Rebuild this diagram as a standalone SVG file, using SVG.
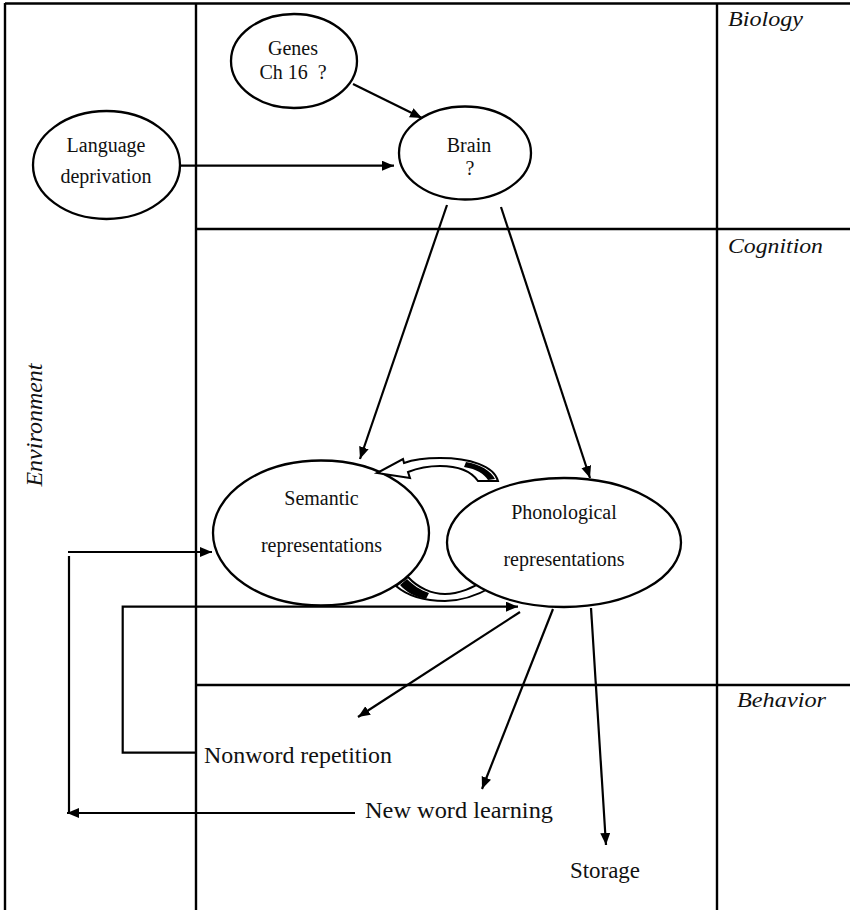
<svg xmlns="http://www.w3.org/2000/svg" width="850" height="910" viewBox="0 0 850 910">
<style>
.frame{stroke:#000;stroke-width:2.4;fill:none}
.node{fill:#fff;stroke:#000;stroke-width:2.3}
.t{font-family:"Liberation Serif","Times New Roman",serif;font-size:20px;fill:#111;text-anchor:middle}
.lbl{font-family:"Liberation Serif","Times New Roman",serif;font-size:23px;fill:#111}
.it{font-family:"Liberation Serif","Times New Roman",serif;font-style:italic;font-size:22px;fill:#111}
.c{stroke:#000;stroke-width:2.2;fill:none}
.band{fill:#fff;stroke:#000;stroke-width:2}
</style>
<defs>
<marker id="ah" markerUnits="userSpaceOnUse" markerWidth="13" markerHeight="11" refX="12" refY="5" orient="auto">
<path d="M0,0 L12,5 L0,10 z" fill="#000"/>
</marker>
</defs>
<rect width="850" height="910" fill="#fff"/>
<g id="frame">
<line class="frame" x1="5" y1="3.5" x2="850" y2="3.5"/>
<line class="frame" x1="5" y1="3" x2="5" y2="910"/>
<line class="frame" x1="196" y1="3" x2="196" y2="910"/>
<line class="frame" x1="717" y1="3" x2="717" y2="910"/>
<line class="frame" x1="196" y1="229" x2="850" y2="229"/>
<line class="frame" x1="196" y1="685" x2="850" y2="685"/>
</g>
<g id="labels">
<text class="it" x="728" y="26" textLength="75" lengthAdjust="spacingAndGlyphs">Biology</text>
<text class="it" x="728" y="253" textLength="95" lengthAdjust="spacingAndGlyphs">Cognition</text>
<text class="it" x="737" y="707" textLength="89" lengthAdjust="spacingAndGlyphs">Behavior</text>
<text class="it" transform="translate(42,425) rotate(-90)" text-anchor="middle" style="font-size:24px">Environment</text>
</g>
<g id="band-bottom">
<path class="band" d="M396,586 C410,598 430,601 445,601 C462,601 476,596 492,587 L486,579 C474,588 458,594 445,594 C432,594 418,588 408,577 Z"/>
<path d="M400,585 C406,592 415,597 426,599 L429,593 C420,590 413,585 407,579 Z" fill="#000"/>
</g>
<g id="connectors">
<line class="c" x1="353" y1="84" x2="422" y2="118" marker-end="url(#ah)"/>
<line class="c" x1="180" y1="165.7" x2="394" y2="165.7" marker-end="url(#ah)"/>
<line class="c" x1="447" y1="205" x2="360" y2="459" marker-end="url(#ah)"/>
<line class="c" x1="501" y1="207" x2="590" y2="478" marker-end="url(#ah)"/>
<line class="c" x1="69" y1="556" x2="69" y2="813"/>
<line class="c" x1="68" y1="552" x2="212" y2="552" marker-end="url(#ah)"/>
<line class="c" x1="355" y1="813" x2="67" y2="813" marker-end="url(#ah)"/>
<path class="c" d="M196,752.7 H122.7 V606.7 H518" marker-end="url(#ah)"/>
<line class="c" x1="520" y1="612" x2="358" y2="717" marker-end="url(#ah)"/>
<line class="c" x1="553" y1="609" x2="482" y2="789" marker-end="url(#ah)"/>
<line class="c" x1="591" y1="608" x2="606" y2="845" marker-end="url(#ah)"/>
</g>
<g id="genes">
<ellipse class="node" cx="294" cy="61" rx="63" ry="47"/>
<text class="t" x="293" y="55">Genes</text>
<text class="t" x="293" y="79" style="white-space:pre">Ch 16  ?</text>
</g>
<g id="brain">
<ellipse class="node" cx="465" cy="153" rx="66" ry="46.5"/>
<text class="t" x="469" y="152">Brain</text>
<text class="t" x="470" y="175">?</text>
</g>
<g id="language">
<ellipse class="node" cx="106.5" cy="165" rx="73.5" ry="54"/>
<text class="t" x="106" y="152">Language</text>
<text class="t" x="106" y="183">deprivation</text>
</g>
<g id="semantic">
<ellipse class="node" cx="321" cy="533" rx="108" ry="72.5"/>
<text class="t" x="321.5" y="505">Semantic</text>
<text class="t" x="321.5" y="552">representations</text>
</g>
<g id="phonological">
<ellipse class="node" cx="564" cy="542.5" rx="117" ry="64.5"/>
<text class="t" x="564" y="519">Phonological</text>
<text class="t" x="564" y="566">representations</text>
</g>
<g id="band-top">
<path class="band" d="M498,481 C494,466 470,458 440,458 C424,458 412,460 404,463 L403,459 L377,473 L410,478 L408,472 C418,468 428,466 440,466 C460,466 471,471 478,481 Z"/>
<path d="M466,462 C480,464 491,471 495,479 L488,480 C484,474 477,469 464,467 Z" fill="#000"/>
</g>
<g id="nonword">
<text class="lbl" x="204" y="763" textLength="188" lengthAdjust="spacingAndGlyphs">Nonword repetition</text>
</g>
<g id="newword">
<text class="lbl" x="365" y="818" textLength="188" lengthAdjust="spacingAndGlyphs">New word learning</text>
</g>
<g id="storage">
<text class="lbl" x="570" y="878" textLength="70" lengthAdjust="spacingAndGlyphs">Storage</text>
</g>
</svg>
